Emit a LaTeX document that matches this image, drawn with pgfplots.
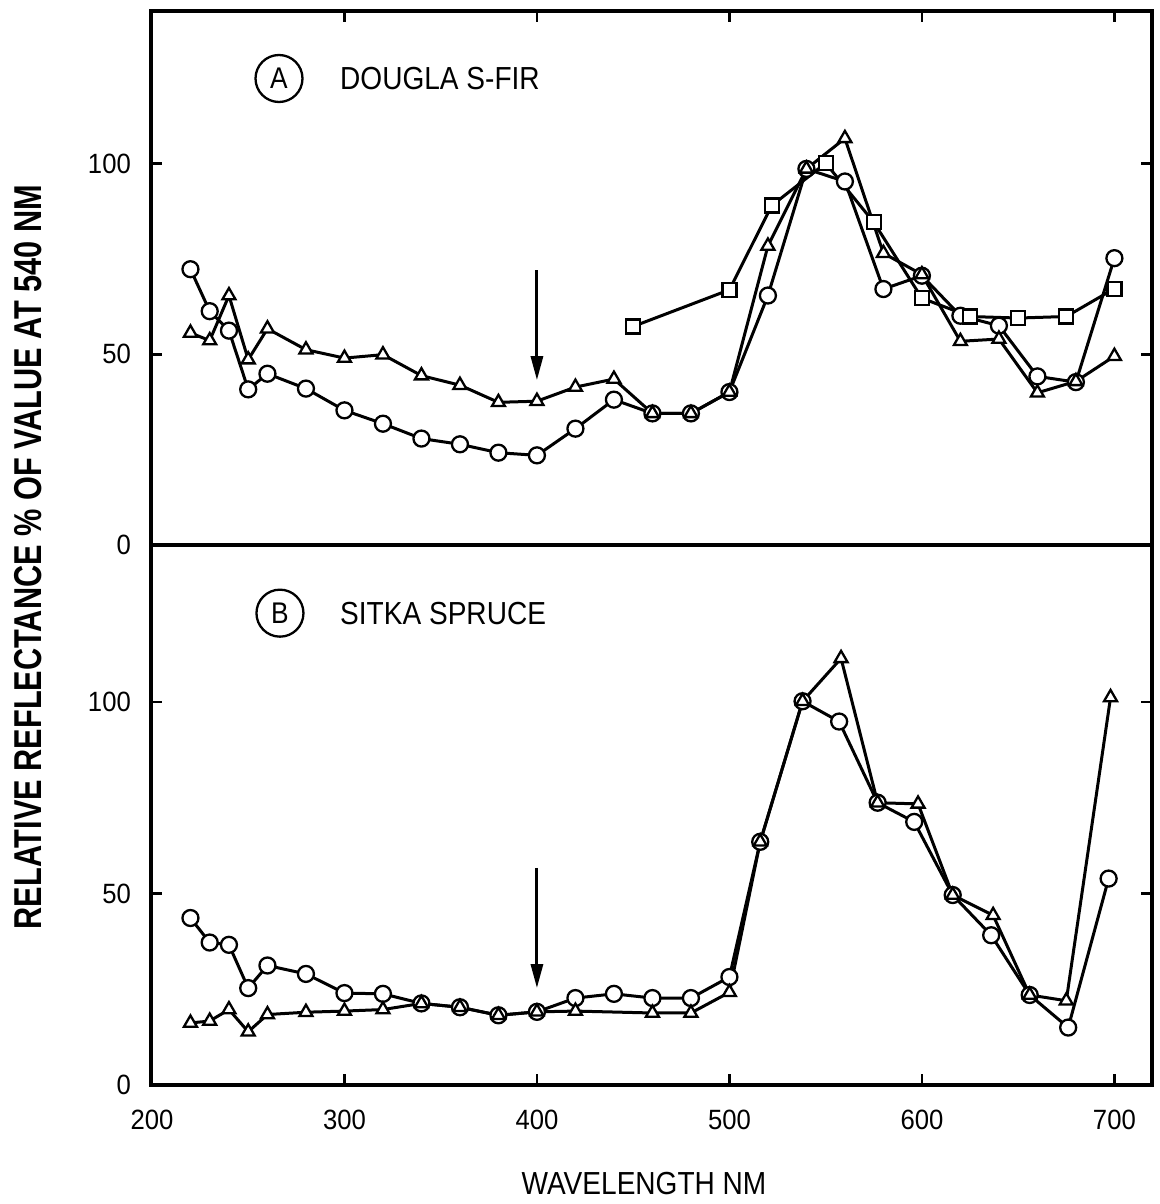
\documentclass[border=0pt]{standalone}
\usepackage{pgfplots}
\pgfplotsset{compat=1.18}
\usetikzlibrary{arrows.meta}
\usepackage{fontspec}
\setmainfont{Liberation Sans}
\newfontfamily\labfont[FakeStretch=0.88]{Liberation Sans}
\newfontfamily\tickfont[FakeStretch=0.92]{Liberation Sans}
\newfontfamily\ylabfont[FakeStretch=0.79]{Liberation Sans}

\pgfplotstableread{
x y
220 72.3
230 61.3
240 56.2
250 40.8
260 44.9
280 41.0
300 35.3
320 31.8
340 27.9
360 26.4
380 24.2
400 23.5
420 30.5
440 38.1
460 34.5
480 34.5
500 40.1
520 65.4
540 98.6
560 95.3
580 67.1
600 70.6
620 60.1
640 57.5
660 44.2
680 42.7
700 75.2
}\Acirc

\pgfplotstableread{
x y
220 55.6
230 53.6
240 65.4
250 48.6
260 56.7
280 51.2
300 49.0
320 49.9
340 44.4
360 41.9
380 37.4
400 37.7
420 41.4
440 43.5
460 34.5
480 34.5
500 40.1
520 78.4
540 98.6
560 106.6
580 76.5
600 70.9
620 53.4
640 54.0
660 39.9
680 42.9
700 49.5
}\Atri

\pgfplotstableread{
x y
450 57.3
500 66.9
522 89.0
550 100.1
575 84.6
600 64.7
625 59.9
650 59.5
675 59.9
700 67.2
}\Asq

\pgfplotstableread{
x y
220 43.6
230 37.2
240 36.6
250 25.3
260 31.2
280 29.0
300 24.0
320 23.8
340 21.3
360 20.3
380 18.2
400 19.1
420 22.7
440 23.8
460 22.7
480 22.7
500 28.2
516 63.5
538 100.2
557 94.9
577 73.7
596 68.7
616 49.6
636 39.1
656 23.5
676 15.0
697 53.9
}\Bcirc

\pgfplotstableread{
x y
220 16.2
230 16.7
240 19.7
250 13.9
260 18.4
280 19.0
300 19.3
320 19.7
340 21.3
360 20.3
380 18.2
400 19.1
420 19.3
460 18.8
480 18.8
500 24.2
516 63.5
538 100.2
558 111.4
577 73.7
598 73.4
616 49.6
637 44.3
656 23.5
675 22.0
698 101.2
}\Btri

\pgfplotsset{
  panel/.style={
    scale only axis, anchor=south west, width=1001bp,
    xmin=199.5, xmax=719.5, ymin=0,
    axis line style={line width=3.2bp},
    tick align=inside, major tick length=11bp,
    every tick/.style={black, line width=2.8bp},
    xtick={200,300,...,700},
    ytick={0,50,100}, ytick pos=both,
    /pgf/number format/assume math mode=true,
    tick label style={font=\tickfont\fontsize{28}{28}\selectfont},
    yticklabel style={inner sep=0pt, anchor=east, xshift=-20bp},
    clip=false,
  },
  circ/.style={black, line width=3bp, mark=*, mark size=8bp,
    mark options={fill=white, draw=black, line width=2.3bp, solid}},
  tri/.style={black, line width=3bp, mark=triangle*, mark size=7.5bp,
    mark options={fill=white, draw=black, line width=2.3bp, solid}},
  sq/.style={black, line width=3bp, mark=square*, mark size=7bp,
    mark options={fill=white, draw=black, line width=2.3bp, solid}},
}

\begin{document}
\begin{tikzpicture}
\useasboundingbox (0,0) rectangle (1160bp,1204bp);

% Panel A
\begin{axis}[panel, at={(151bp,659bp)}, height=534bp, ymax=140,
  xtick pos=right, xticklabels={}]
  \addplot[circ] table[x=x,y=y] {\Acirc};
  \addplot[tri] table[x=x,y=y] {\Atri};
  \addplot[sq] table[x=x,y=y] {\Asq};
  \draw[line width=3bp, -{Triangle[length=24bp, width=12bp]}]
    (axis cs:400,72) -- (axis cs:400,43.2);
  \node[draw, circle, line width=2.3bp, minimum size=47bp, inner sep=0pt,
    font=\labfont\fontsize{30}{30}\selectfont] at (axis cs:266,122.3) {A};
  \node[anchor=west, inner sep=0pt, font=\labfont\fontsize{32}{32}\selectfont]
    at (axis cs:297.7,122.3) {DOUGLA S-FIR};
\end{axis}

% Panel B
\begin{axis}[panel, at={(151bp,119bp)}, height=540bp, ymax=141,
  xtick pos=left,
  xticklabel style={inner sep=0pt, anchor=north, yshift=-25bp}]
  \addplot[circ] table[x=x,y=y] {\Bcirc};
  \addplot[tri] table[x=x,y=y] {\Btri};
  \draw[line width=3bp, -{Triangle[length=24bp, width=12bp]}]
    (axis cs:400,56.7) -- (axis cs:400,25.3);
  \node[draw, circle, line width=2.3bp, minimum size=47bp, inner sep=0pt,
    font=\labfont\fontsize{30}{30}\selectfont] at (axis cs:266.5,123.2) {B};
  \node[anchor=west, inner sep=0pt, font=\labfont\fontsize{32}{32}\selectfont]
    at (axis cs:297.7,123.2) {SITKA SPRUCE};
\end{axis}

\node[rotate=90, font=\ylabfont\bfseries\fontsize{39}{39}\selectfont]
  at (28bp,647bp) {RELATIVE REFLECTANCE \% OF VALUE AT 540 NM};
\node[font=\labfont\fontsize{32}{32}\selectfont] at (644bp,20.5bp) {WAVELENGTH NM};
\end{tikzpicture}
\end{document}
